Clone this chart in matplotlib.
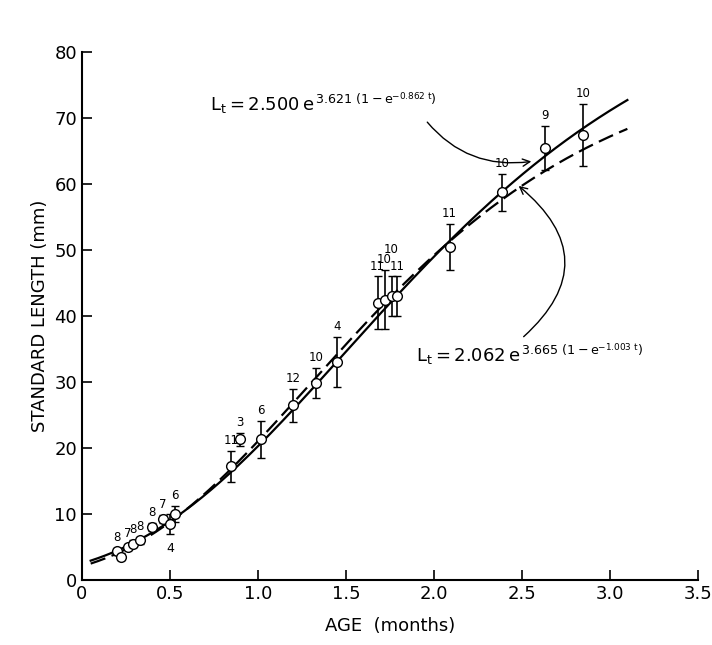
import numpy as np
import matplotlib.pyplot as plt

# observed means, sd, sample size
age = [0.20, 0.22, 0.26, 0.29, 0.33, 0.40, 0.46, 0.50, 0.53, 0.85, 0.90, 1.02, 1.20, 1.33, 1.45, 1.68, 1.72, 1.76, 1.79, 2.09, 2.39, 2.63, 2.85]
length = [4.3, 3.5, 5.0, 5.5, 6.0, 8.0, 9.2, 8.5, 10.0, 17.2, 21.3, 21.3, 26.5, 29.8, 33.0, 42.0, 42.5, 43.0, 43.0, 50.5, 58.8, 65.5, 67.5]
sd = [0.5, 0.5, 0.5, 0.5, 0.5, 0.6, 0.6, 1.5, 1.2, 2.3, 1.0, 2.8, 2.5, 2.3, 3.8, 4.0, 4.5, 3.0, 3.0, 3.5, 2.8, 3.3, 4.7]
n = ['8', '', '7', '8', '8', '8', '7', '4', '6', '11', '3', '6', '12', '10', '4', '11', '10', '10', '11', '11', '10', '9', '10']
# small vertical offsets for crowded labels
lab_dy = [0, 0, 0, 0, 0, 0, 0, 0, 0, 0, 0, 0, 0, 0, 0, 0, 0, 2.5, 0, 0, 0, 0, 0]

# Gompertz fits
fit1 = (2.500, 3.621, 0.862)
fit2 = (2.062, 3.665, 1.003)

t = np.linspace(0.05, 3.1, 300)
g1 = fit1[0] * np.exp(fit1[1] * (1 - np.exp(-fit1[2] * t)))
g2 = fit2[0] * np.exp(fit2[1] * (1 - np.exp(-fit2[2] * t)))

fig, ax = plt.subplots(figsize=(7.12, 6.45), dpi=100)
fig.subplots_adjust(left=0.115, right=0.98, bottom=0.101, top=0.919)

ax.plot(t, g1, color='black', lw=1.6)
ax.plot(t, g2, color='black', lw=1.6, ls=(0, (7, 3)))
ax.errorbar(age, length, yerr=sd, fmt='o', mfc='white', mec='black', ms=7,
            ecolor='black', elinewidth=1.2, capsize=3, color='black')
for a, l, s, lab, dy in zip(age, length, sd, n, lab_dy):
    if lab == '4' and a < 1:
        ax.text(a, l - s - 1.2, lab, ha='center', va='top', fontsize=9)
    elif lab:
        ax.text(a, l + s + 0.6 + dy, lab, ha='center', va='bottom', fontsize=8.5)

ax.annotate(r'$\mathrm{L_t = 2.500\,e^{\,3.621\ (1-e^{-0.862\ t})}}$', xy=(2.57, 63.5), xytext=(0.73, 71),
            fontsize=13, arrowprops=dict(arrowstyle='->', connectionstyle='arc3,rad=0.3', color='black',
                                         relpos=(0.93, 0.1), shrinkA=2, shrinkB=2))
ax.annotate(r'$\mathrm{L_t = 2.062\,e^{\,3.665\ (1-e^{-1.003\ t})}}$', xy=(2.47, 60), xytext=(1.9, 33),
            fontsize=13, arrowprops=dict(arrowstyle='->', connectionstyle='arc3,rad=0.6',
                                         color='black', relpos=(0.45, 1.0), shrinkB=2))

ax.set_xlim(0, 3.5)
ax.set_ylim(0, 80)
ax.set_xticks([0, 0.5, 1.0, 1.5, 2.0, 2.5, 3.0, 3.5])
ax.set_xticklabels(['0', '0.5', '1.0', '1.5', '2.0', '2.5', '3.0', '3.5'])
ax.set_yticks(range(0, 81, 10))
ax.tick_params(direction='in', length=7, width=1.2, labelsize=13)
for s in ['top', 'right']:
    ax.spines[s].set_visible(False)
for s in ['left', 'bottom']:
    ax.spines[s].set_linewidth(1.5)
ax.set_xlabel('AGE  (months)', fontsize=13, labelpad=10)
ax.set_ylabel('STANDARD LENGTH (mm)', fontsize=13)

fig.savefig('out.png')
